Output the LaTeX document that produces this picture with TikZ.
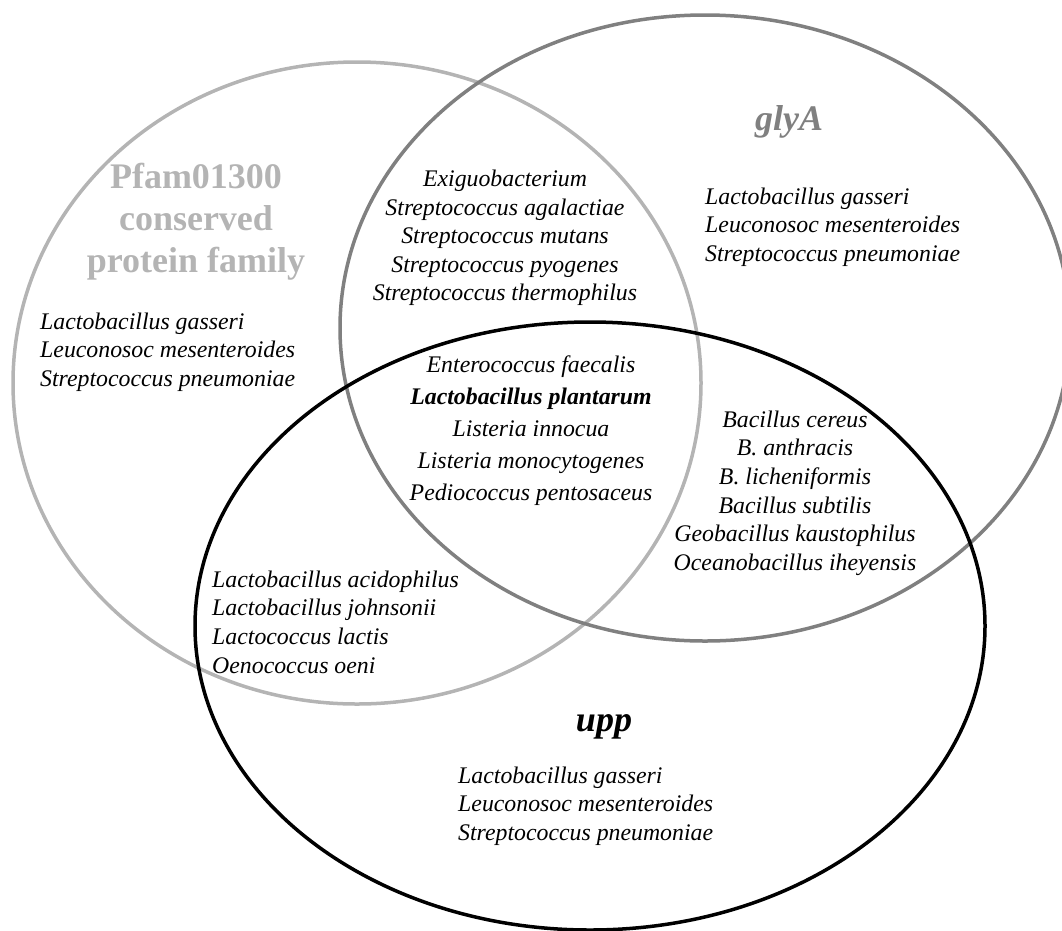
\documentclass[tikz,border=0pt]{standalone}
\usepackage{fontspec}
\setmainfont{Liberation Serif}
\usepackage{xcolor}
\definecolor{pfgray}{RGB}{180,180,180}
\definecolor{glygray}{RGB}{128,128,128}
\usetikzlibrary{positioning}
\tikzset{
  setname/.style={font=\fontsize{36}{42}\selectfont\bfseries, text=#1,
                  align=center, inner sep=0pt},
  splist/.style={font=\fontsize{23.8}{28.6}\selectfont\itshape, align=#1,
                 inner sep=0pt},
  ring/.style={draw=#1, line width=3.5pt},
}

\begin{document}
\begin{tikzpicture}[x=1pt, y=-1pt]
\clip (0,0) rectangle (1062,930);
% The three sets
\foreach \cx/\cy/\rx/\ry/\col in {
  357/383/344/321/pfgray,
  705/328/365/313/glygray,
  590/626/395/304/black}{
  \draw[ring=\col] (\cx,\cy) ellipse [x radius=\rx pt, y radius=\ry pt];
}
% Set names
\node[setname=pfgray] (pfam) at (196,222) {Pfam01300\\conserved\\protein family};
\node[setname=glygray, font=\fontsize{36}{42}\selectfont\bfseries\itshape] (glya) at (789,122) {glyA};
\node[setname=black, font=\fontsize{36}{42}\selectfont\bfseries\itshape] (upp) at (604,727) {upp};
% Pfam only
\node[splist=left, anchor=west] (pfonly) at (40,352) {Lactobacillus gasseri\\Leuconosoc mesenteroides\\Streptococcus pneumoniae};
% glyA only
\node[splist=left, anchor=west] (glyonly) at (705,227) {Lactobacillus gasseri\\Leuconosoc mesenteroides\\Streptococcus pneumoniae};
% upp only
\node[splist=left, anchor=west] (upponly) at (458,806) {Lactobacillus gasseri\\Leuconosoc mesenteroides\\Streptococcus pneumoniae};
% Pfam and glyA
\node[splist=center] (pfgly) at (505,238) {Exiguobacterium\\Streptococcus agalactiae\\Streptococcus mutans\\Streptococcus pyogenes\\Streptococcus thermophilus};
% glyA and upp
\node[splist=center] (glyupp) at (795,493) {Bacillus cereus\\B. anthracis\\B. licheniformis\\Bacillus subtilis\\Geobacillus kaustophilus\\Oceanobacillus iheyensis};
% Pfam and upp
\node[splist=left, anchor=west] (pfupp) at (212,622) {Lactobacillus acidophilus\\Lactobacillus johnsonii\\Lactococcus lactis\\Oenococcus oeni};
% all three
\node[splist=center, font=\fontsize{23.8}{32}\selectfont\itshape] (core) at (531,431) {Enterococcus faecalis\\\textbf{Lactobacillus plantarum}\\Listeria innocua\\Listeria monocytogenes\\Pediococcus pentosaceus};
\end{tikzpicture}
\end{document}
